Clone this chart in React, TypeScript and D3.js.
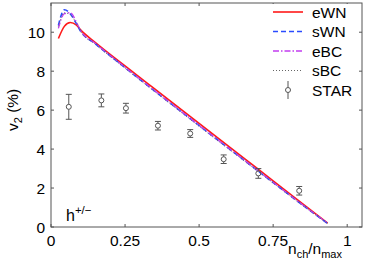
import React from "react";
import * as d3 from "d3";

// model curves (v2 in %) vs n_ch/n_max
const modelX = [0.025, 0.045, 0.065, 0.085, 0.1, 0.15, 0.25, 0.35, 0.45, 0.55, 0.65, 0.75, 0.85, 0.934];
const eWN = [9.68, 10.3, 10.5, 10.38, 10.12, 9.47, 8.27, 7.09, 5.91, 4.73, 3.55, 2.37, 1.19, 0.2];
const sWN = [10.35, 11.15, 10.95, 10.45, 10.05, 9.4, 8.18, 6.98, 5.8, 4.62, 3.45, 2.28, 1.12, 0.18];
const eBC = [10.2, 10.95, 11.0, 10.55, 10.08, 9.42, 8.2, 7.0, 5.81, 4.63, 3.46, 2.29, 1.13, 0.2];
const sBC = [10.3, 11.0, 10.9, 10.48, 10.04, 9.38, 8.15, 6.95, 5.76, 4.58, 3.42, 2.26, 1.1, 0.18];

// STAR data
const starX = [0.06, 0.17, 0.253, 0.361, 0.47, 0.583, 0.7, 0.838];
const starY = [6.17, 6.5, 6.1, 5.2, 4.8, 3.48, 2.75, 1.86];
const starErr = [0.64, 0.33, 0.25, 0.22, 0.2, 0.22, 0.25, 0.22];

const xTicks = [0, 0.25, 0.5, 0.75, 1];
const xTickLabels = ["0", "0.25", "0.5", "0.75", "1"];
const yTicks = [0, 2, 4, 6, 8, 10];

const series = [
    { name: "eWN", values: eWN, color: "#ff1a1a", dash: null, width: 1.6 },
    { name: "sWN", values: sWN, color: "#2a4bff", dash: "5,3", width: 1.6 },
    { name: "eBC", values: eBC, color: "#c23cf0", dash: "6,2,1.5,2", width: 1.3 },
    { name: "sBC", values: sBC, color: "#666", dash: "1,2", width: 1 },
];

const W = 366, H = 267;
const font = "'Liberation Sans', Arial, sans-serif";
const axisColor = "#555";
const fs = 15.5;

export default function App() {
    const x = d3.scaleLinear().domain([0, 1.05]).range([51, 362]);
    const y = d3.scaleLinear().domain([0, 11.5]).range([227, 3]);
    const [x0, x1] = x.range();
    const [y0, y1] = y.range();

    const line = d3.line<number>()
        .x((_, i) => x(modelX[i]))
        .y(d => y(d))
        .curve(d3.curveMonotoneX);

    // legend rows
    const legX = 273, legLen = 30, legTextX = 312;
    const legRowY = (i: number) => 12 + i * 19.5;

    return (
        <div style={{ position: "absolute", left: 0, top: 0 }}>
            <svg width={W} height={H} style={{ display: "block", background: "#fff" }}>
                <rect x={0} y={0} width={W} height={H} fill="#fff" />

                {/* curves */}
                {series.map(s => (
                    <path key={s.name} d={line(s.values) || ""} fill="none"
                        stroke={s.color} strokeWidth={s.width}
                        strokeDasharray={s.dash || undefined} />
                ))}

                {/* STAR points */}
                {starX.map((v, i) => {
                    const cx = x(v), cy = y(starY[i]);
                    const top = y(starY[i] + starErr[i]), bot = y(starY[i] - starErr[i]);
                    return (
                        <g key={i} stroke="#555" strokeWidth={1} fill="none">
                            <line x1={cx} x2={cx} y1={top} y2={cy - 2.5} />
                            <line x1={cx} x2={cx} y1={cy + 2.5} y2={bot} />
                            <line x1={cx - 3} x2={cx + 3} y1={top} y2={top} />
                            <line x1={cx - 3} x2={cx + 3} y1={bot} y2={bot} />
                            <circle cx={cx} cy={cy} r={2.5} />
                        </g>
                    );
                })}

                {/* frame and ticks */}
                <rect x={x0} y={y1} width={x1 - x0} height={y0 - y1} fill="none" stroke={axisColor} strokeWidth={1} />
                {xTicks.map(t => (
                    <g key={"xt" + t} stroke={axisColor}>
                        <line x1={x(t)} x2={x(t)} y1={y0} y2={y0 - 3} />
                        <line x1={x(t)} x2={x(t)} y1={y1} y2={y1 + 3} />
                    </g>
                ))}
                {yTicks.map(t => (
                    <g key={"yt" + t} stroke={axisColor}>
                        <line x1={x0} x2={x0 + 3} y1={y(t)} y2={y(t)} />
                        <line x1={x1} x2={x1 - 3} y1={y(t)} y2={y(t)} />
                    </g>
                ))}

                {/* legend */}
                <rect x={265} y={4} width={94} height={96} fill="#fff" />
                {series.map((s, i) => (
                    <g key={"leg" + s.name}>
                        <line x1={legX} x2={legX + legLen} y1={legRowY(i)} y2={legRowY(i)}
                            stroke={s.color} strokeWidth={s.width}
                            strokeDasharray={s.dash || undefined} />
                        <text x={legTextX} y={legRowY(i) + 5.5} fontFamily={font} fontSize={fs} fill="#000">{s.name}</text>
                    </g>
                ))}
                <g stroke="#555" fill="none" strokeWidth={1}>
                    <line x1={legX + 15} x2={legX + 15} y1={legRowY(4) - 9} y2={legRowY(4) - 2.5} />
                    <line x1={legX + 15} x2={legX + 15} y1={legRowY(4) + 2.5} y2={legRowY(4) + 9} />
                    <circle cx={legX + 15} cy={legRowY(4)} r={2.5} />
                </g>
                <text x={legTextX} y={legRowY(4) + 5.5} fontFamily={font} fontSize={fs} fill="#000">STAR</text>

                {/* tick labels */}
                {xTicks.map((t, i) => (
                    <text key={"xl" + t} x={x(t)} y={245.5} textAnchor="middle" fontFamily={font} fontSize={fs} fill="#000">{xTickLabels[i]}</text>
                ))}
                {yTicks.map(t => (
                    <text key={"yl" + t} x={45} y={y(t) + 5.5} textAnchor="end" fontFamily={font} fontSize={fs} fill="#000">{t}</text>
                ))}

                {/* axis labels */}
                <text x={288} y={254} fontFamily={font} fontSize={fs} fill="#000">
                    n<tspan fontSize={11} dy={4}>ch</tspan><tspan dy={-4}>/n</tspan><tspan fontSize={11} dy={4}>max</tspan>
                </text>
                <text transform="translate(18,131) rotate(-90)" fontFamily={font} fontSize={fs} fill="#000">
                    v<tspan fontSize={11} dy={4}>2</tspan><tspan dy={-4}> (%)</tspan>
                </text>
                <text x={66} y={221} fontFamily={font} fontSize={16} fill="#000">
                    h<tspan fontSize={11.5} dy={-7}>+/−</tspan>
                </text>
            </svg>
        </div>
    );
}
